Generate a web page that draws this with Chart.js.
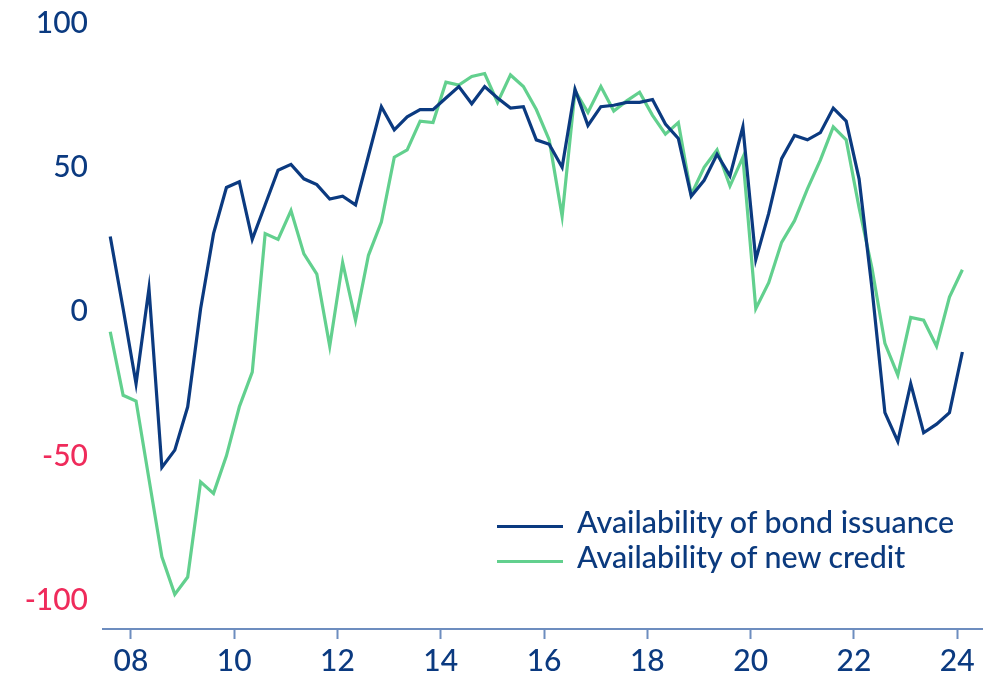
<!DOCTYPE html>
<html>
<head>
<meta charset="utf-8">
<script src="https://cdn.jsdelivr.net/npm/chart.js@4.4.1/dist/chart.umd.min.js"></script>
<style>
    html, body { margin: 0; padding: 0; background: #ffffff; }
    #wrap { position: relative; width: 992px; height: 681px; }
    .legend-line { position: absolute; left: 497px; width: 66px; height: 3px; }
    .legend-text {
        position: absolute; left: 577px;
        font-family: Lato, sans-serif; font-weight: 500; font-size: 30.4px; line-height: 30px;
        color: #0b3a7e; white-space: nowrap;
    }
</style>
</head>
<body>
<div id="wrap">
    <canvas id="chart" width="992" height="681"></canvas>
    <div class="legend-line" id="lineBond" style="top:525px"></div>
    <div class="legend-text" id="textBond" style="top:506px"></div>
    <div class="legend-line" id="lineCredit" style="top:560px"></div>
    <div class="legend-text" id="textCredit" style="top:541px"></div>
</div>

<script>
// quarterly survey readings, 2007 Q3 - 2024 Q1
const quarters = [
    "2007Q3", "2007Q4",
    "2008Q1", "2008Q2", "2008Q3", "2008Q4",
    "2009Q1", "2009Q2", "2009Q3", "2009Q4",
    "2010Q1", "2010Q2", "2010Q3", "2010Q4",
    "2011Q1", "2011Q2", "2011Q3", "2011Q4",
    "2012Q1", "2012Q2", "2012Q3", "2012Q4",
    "2013Q1", "2013Q2", "2013Q3", "2013Q4",
    "2014Q1", "2014Q2", "2014Q3", "2014Q4",
    "2015Q1", "2015Q2", "2015Q3", "2015Q4",
    "2016Q1", "2016Q2", "2016Q3", "2016Q4",
    "2017Q1", "2017Q2", "2017Q3", "2017Q4",
    "2018Q1", "2018Q2", "2018Q3", "2018Q4",
    "2019Q1", "2019Q2", "2019Q3", "2019Q4",
    "2020Q1", "2020Q2", "2020Q3", "2020Q4",
    "2021Q1", "2021Q2", "2021Q3", "2021Q4",
    "2022Q1", "2022Q2", "2022Q3", "2022Q4",
    "2023Q1", "2023Q2", "2023Q3", "2023Q4",
    "2024Q1"
];

const bondIssuance = [
    26, 1,
    -25, 8, -54, -48,
    -33, 1, 27, 43,
    45, 25, 37, 49,
    51, 46, 44, 39,
    40, 37, 54, 71,
    63, 67.5, 70, 70,
    74, 78, 72, 78,
    74, 70.5, 71, 59.5,
    58, 50, 77, 64.5,
    71, 71.5, 72.5, 72.5,
    73.5, 65, 60, 40,
    45.5, 54.5, 47, 64,
    18, 34, 53, 61,
    59.5, 62, 70.5, 66,
    46, 8, -35, -45,
    -25, -42, -39, -35,
    -14
];

const newCredit = [
    -7, -29,
    -31, -58, -85, -98,
    -92, -59, -63, -50,
    -33, -21, 27, 25,
    35, 20, 13, -12,
    17, -3, 19.5, 31,
    53.5, 56, 66, 65.5,
    79.5, 78.5, 81.5, 82.5,
    72.5, 82, 78, 70,
    59.5, 33, 76.5, 69,
    78, 69.5, 73, 76,
    68, 61.5, 65.5, 40.5,
    50, 56, 43.5, 53.5,
    1, 10, 24, 31.5,
    42.5, 52.5, 64, 59.5,
    36, 15, -11, -22,
    -2, -3, -12, 5,
    14.5
];

const yearTicks = [2008, 2010, 2012, 2014, 2016, 2018, 2020, 2022, 2024];
const valueTicks = [-100, -50, 0, 50, 100];

const seriesNames = ["Availability of bond issuance", "Availability of new credit"];

const NAVY = "#0b3a80";
const GREEN = "#62d08e";
const PINK = "#ef2b5b";
const AXIS = "#6d8dbf";

// place each quarter a little after the start of its quarter
function quarterToX(label) {
    const year = parseInt(label.slice(0, 4), 10);
    const q = parseInt(label.slice(5), 10);
    return year + (q - 1) / 4 + 0.1;
}

function toPoints(values) {
    return values.map((v, i) => ({ x: quarterToX(quarters[i]), y: v }));
}

const ctx = document.getElementById("chart");

new Chart(ctx, {
    type: "line",
    data: {
        datasets: [
            {
                label: seriesNames[0],
                data: toPoints(bondIssuance),
                borderColor: NAVY,
                borderWidth: 3.2,
                pointRadius: 0,
                tension: 0,
                fill: false
            },
            {
                label: seriesNames[1],
                data: toPoints(newCredit),
                borderColor: GREEN,
                borderWidth: 3.2,
                pointRadius: 0,
                tension: 0,
                fill: false
            }
        ]
    },
    options: {
        responsive: false,
        animation: false,
        devicePixelRatio: 1,
        layout: {
            padding: { left: 0, right: 10, top: 23, bottom: 0 }
        },
        plugins: {
            legend: { display: false },
            tooltip: { enabled: false }
        },
        scales: {
            x: {
                type: "linear",
                min: 2007.46,
                max: 2024.48,
                afterBuildTicks: (scale) => {
                    scale.ticks = yearTicks.map(v => ({ value: v }));
                },
                afterFit: (scale) => {
                    scale.height = 52;
                },
                border: { display: true, color: AXIS, width: 2 },
                grid: {
                    display: true,
                    drawOnChartArea: false,
                    drawTicks: true,
                    tickLength: 10,
                    tickWidth: 2,
                    tickColor: AXIS
                },
                ticks: {
                    padding: 4,
                    maxRotation: 0,
                    autoSkip: false,
                    color: NAVY,
                    font: { family: "Lato", size: 30, weight: 500 },
                    callback: (v) => String(v).slice(2)
                }
            },
            y: {
                min: -110,
                max: 100,
                afterBuildTicks: (scale) => {
                    scale.ticks = valueTicks.map(v => ({ value: v }));
                },
                afterFit: (scale) => {
                    scale.width = 103;
                    // let the layout padding alone decide where 100 sits
                    scale.paddingTop = 0;
                    scale.paddingBottom = 0;
                },
                border: { display: false },
                grid: { display: false, drawTicks: false },
                ticks: {
                    padding: 15,
                    color: (c) => c.tick && c.tick.value < 0 ? PINK : NAVY,
                    font: { family: "Lato", size: 30, weight: 500 }
                }
            }
        }
    }
});

document.getElementById("lineBond").style.background = NAVY;
document.getElementById("lineCredit").style.background = GREEN;
document.getElementById("textBond").textContent = seriesNames[0];
document.getElementById("textCredit").textContent = seriesNames[1];
</script>
</body>
</html>
